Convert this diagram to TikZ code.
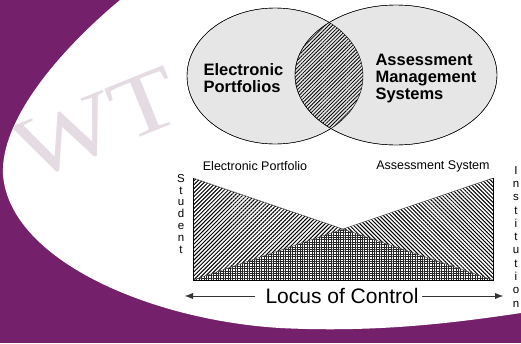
\documentclass[tikz,border=0pt]{standalone}
\usepackage{fontspec}
\setmainfont{Liberation Sans}
\newfontfamily\wmfont{Liberation Serif}
\usetikzlibrary{arrows.meta,patterns,patterns.meta,positioning}
\definecolor{plum}{RGB}{116,32,107}
\definecolor{venngray}{RGB}{230,230,230}
\definecolor{wmark}{RGB}{228,220,226}

\begin{document}
\begin{tikzpicture}[x=1pt,y=-1pt,
	venntext/.style={font=\fontsize{16.5}{17}\selectfont\bfseries,align=left,anchor=west},
	toplabel/.style={font=\fontsize{12.5}{14}\selectfont},
	sidelabel/.style={align=center,inner sep=0pt,anchor=north},
	ehatch/.style={pattern={Lines[angle=45,distance=2.8pt,line width=1pt]}},
	ahatch/.style={pattern={Lines[angle=-45,distance=2.8pt,line width=1pt]}},
	bothhatch/.style={pattern={Hatch[angle=0,distance=2.4pt,line width=0.9pt]},pattern color=black!85},
	locarrow/.style={arrows=-{Latex[length=8pt,width=6pt]},draw=black!80}]
	\useasboundingbox (0,0) rectangle (521,343);
	\fill[plum] (0,0) rectangle (521,343);
	\fill[white] (120,0) .. controls (60,50) and (0,120) .. (3,175) .. controls (10,260) and (150,320) .. (280,328) .. controls (380,333) and (460,322) .. (521,313) -- (521,0) -- cycle;
	\begin{scope}
		\clip (120,0) .. controls (60,50) and (0,120) .. (3,175) -- (177,175) -- (177,0) -- cycle;
		\node at (97,124) [rotate=22,xscale=1.25,text=wmark,font=\wmfont\fontsize{88}{88}\selectfont] (wm) {WT};
	\end{scope}
	% the two sets
	\draw[fill=venngray] (275,76) ellipse [x radius=88,y radius=68];
	\draw[fill=venngray] (396,75) ellipse [x radius=101,y radius=70];
	\begin{scope}
		\clip (275,76) ellipse [x radius=88,y radius=68];
		\fill[pattern={Lines[angle=45,distance=2.6pt,line width=0.8pt]}] (396,75) ellipse [x radius=101,y radius=70];
	\end{scope}
	\draw (275,76) ellipse [x radius=88,y radius=68];
	\draw (396,75) ellipse [x radius=101,y radius=70];
	\node at (200,78) [venntext] (ep) {Electronic\\Portfolios};
	\node at (372,79) [venntext] (ams) {Assessment\\Management\\Systems};
	% control triangles
	\coordinate (tl) at (193,178);
	\coordinate (bl) at (193,280);
	\coordinate (tr) at (493,178);
	\coordinate (br) at (493,280);
	\coordinate (mid) at (343,229);
	\fill[ehatch] (tl) -- (mid) -- (bl) -- cycle;
	\fill[ahatch] (tr) -- (br) -- (mid) -- cycle;
	\fill[bothhatch] (bl) -- (mid) -- (br) -- cycle;
	\draw[black!70] (tl) -- (br);
	\draw[black!70] (tr) -- (bl);
	\draw (tl) -- (bl) -- (br) -- (tr);
	\node at (255,166) [toplabel] (eplab) {Electronic Portfolio};
	\node at (433,166) [toplabel] (aslab) {Assessment System};
	\node at (181,174) [sidelabel,font=\fontsize{11.5}{11.8}\selectfont] (stu) {S\\t\\u\\d\\e\\n\\t};
	\node at (516,166) [sidelabel,font=\fontsize{11.5}{13.3}\selectfont] (inst) {I\\n\\s\\t\\i\\t\\u\\t\\i\\o\\n};
	\node at (342,296) [font=\fontsize{21}{21}\selectfont] (loc) {Locus of Control};
	\coordinate (lend) at (185,296);
	\coordinate (rend) at (503,296);
	\draw[locarrow,shorten <=7pt] (loc.west) -- (lend);
	\draw[locarrow] (loc.east) -- (rend);
\end{tikzpicture}
\end{document}
